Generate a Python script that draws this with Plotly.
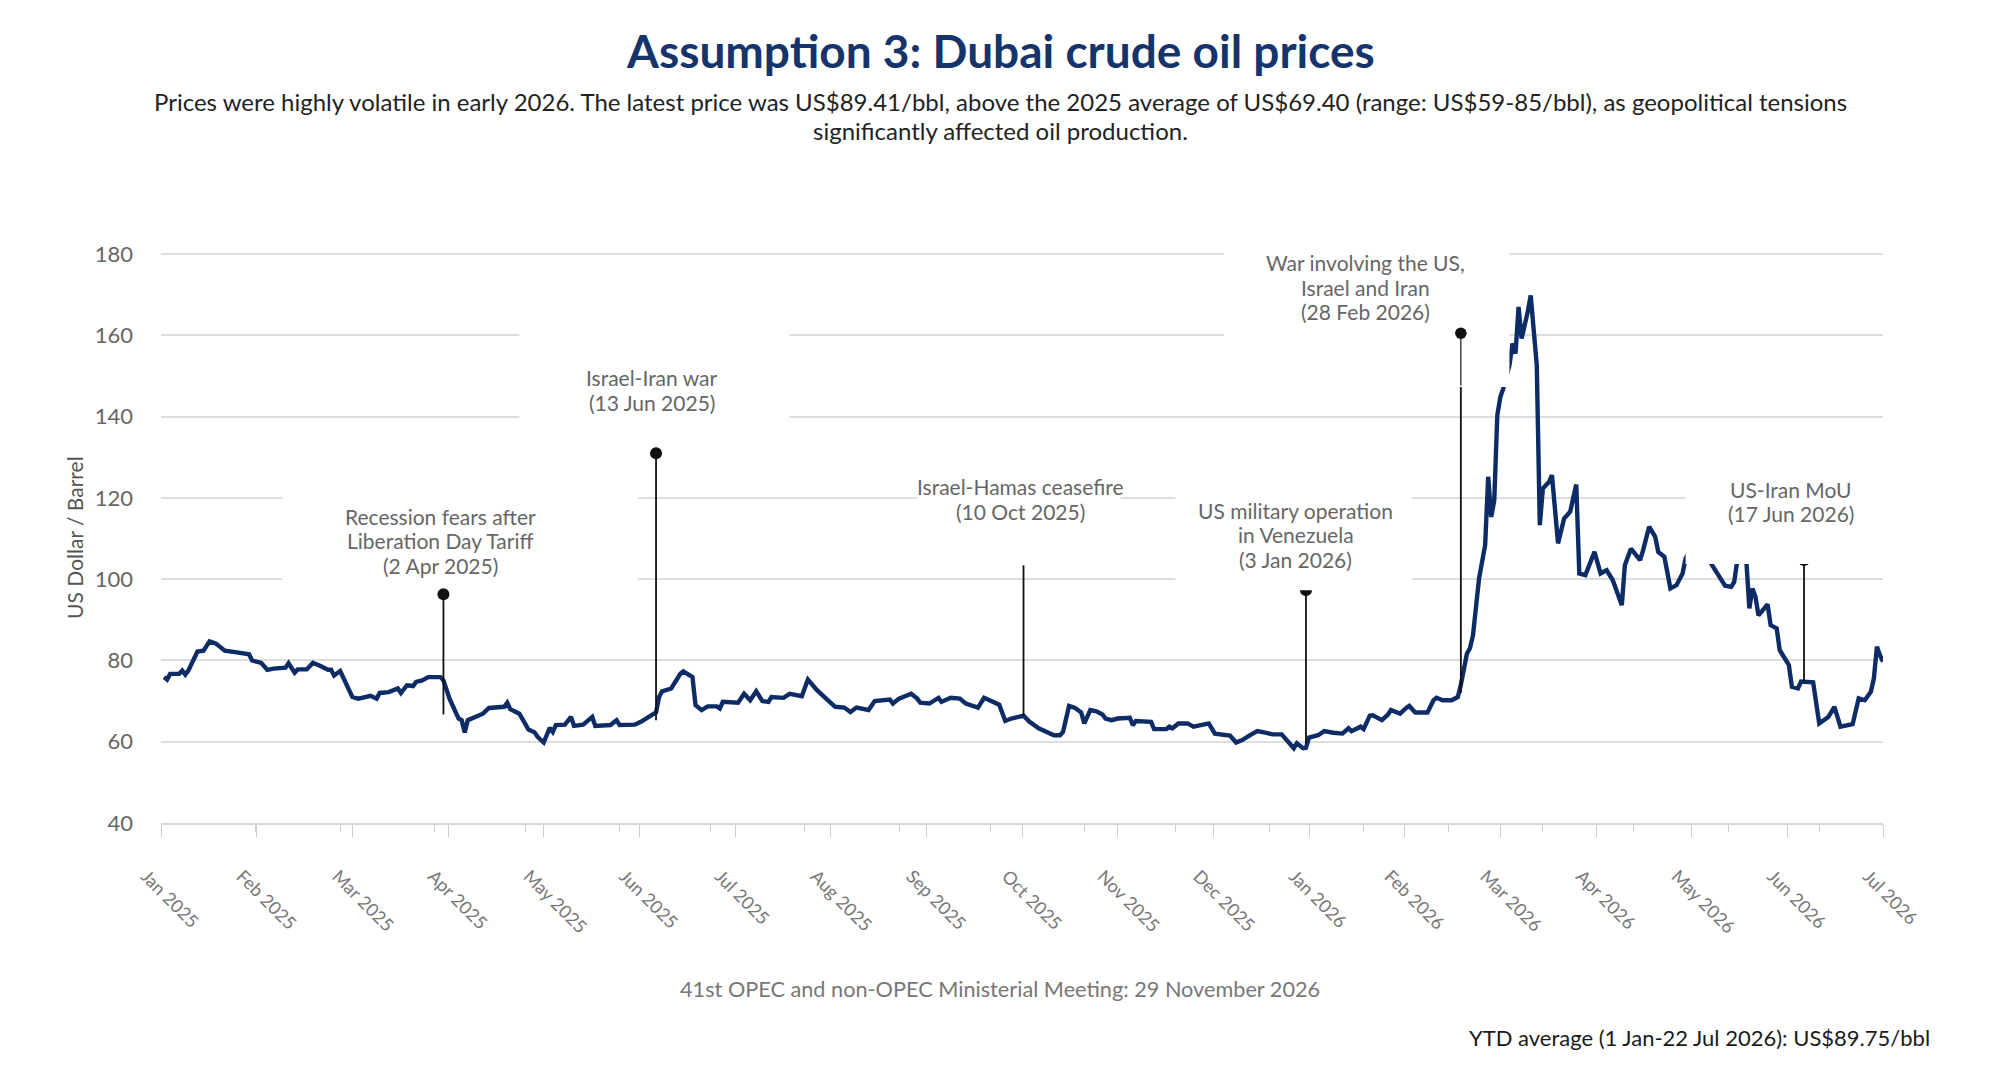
import plotly.graph_objects as go
import pandas as pd

# ---------------- data ----------------
dates = [
    "2025-01-02","2025-01-03","2025-01-04","2025-01-07","2025-01-08","2025-01-09","2025-01-10","2025-01-13",
    "2025-01-15","2025-01-17","2025-01-19","2025-01-22","2025-01-26","2025-01-30","2025-01-31","2025-02-03",
    "2025-02-05","2025-02-07","2025-02-11","2025-02-12","2025-02-14","2025-02-15","2025-02-18","2025-02-20",
    "2025-02-22","2025-02-25","2025-02-26","2025-02-27","2025-03-01","2025-03-03","2025-03-05","2025-03-07",
    "2025-03-11","2025-03-13","2025-03-14","2025-03-17","2025-03-20","2025-03-21","2025-03-23","2025-03-25",
    "2025-03-26","2025-03-28","2025-03-30","2025-04-03","2025-04-04","2025-04-06","2025-04-09","2025-04-10",
    "2025-04-11","2025-04-12","2025-04-15","2025-04-17","2025-04-19","2025-04-24","2025-04-25","2025-04-26",
    "2025-04-29","2025-05-02","2025-05-04","2025-05-05","2025-05-07","2025-05-09","2025-05-10","2025-05-11",
    "2025-05-14","2025-05-16","2025-05-17","2025-05-20","2025-05-23","2025-05-24",
    "2025-05-29","2025-05-31","2025-06-01","2025-06-06","2025-06-08","2025-06-12","2025-06-13","2025-06-14",
    "2025-06-15","2025-06-18","2025-06-21","2025-06-22","2025-06-25","2025-06-26","2025-06-28","2025-06-30",
    "2025-07-03","2025-07-04","2025-07-05","2025-07-10","2025-07-12","2025-07-14","2025-07-16","2025-07-18",
    "2025-07-20","2025-07-21","2025-07-25","2025-07-27","2025-07-31","2025-08-02","2025-08-05","2025-08-08",
    "2025-08-11","2025-08-14","2025-08-16","2025-08-18","2025-08-22","2025-08-24","2025-08-29","2025-08-30",
    "2025-09-01","2025-09-05","2025-09-07","2025-09-08","2025-09-11","2025-09-14","2025-09-15","2025-09-18",
    "2025-09-21","2025-09-23","2025-09-27","2025-09-29","2025-10-01","2025-10-04","2025-10-06","2025-10-08",
    "2025-10-12","2025-10-14",
    "2025-10-17","2025-10-19","2025-10-22","2025-10-24","2025-10-25","2025-10-27","2025-10-29","2025-10-31",
    "2025-11-01","2025-11-03","2025-11-05","2025-11-07","2025-11-08","2025-11-10","2025-11-12","2025-11-16",
    "2025-11-17","2025-11-18","2025-11-23","2025-11-24","2025-11-28","2025-11-29","2025-11-30","2025-12-02",
    "2025-12-05","2025-12-07","2025-12-10","2025-12-12","2025-12-14","2025-12-16","2025-12-19","2025-12-21",
    "2025-12-23","2025-12-26","2025-12-28","2025-12-31","2026-01-02","2026-01-05","2026-01-07","2026-01-09",
    "2026-01-10","2026-01-12","2026-01-13","2026-01-14","2026-01-17","2026-01-19","2026-01-22","2026-01-25",
    "2026-01-27","2026-01-28","2026-01-31","2026-02-01","2026-02-03","2026-02-04","2026-02-07","2026-02-09",
    "2026-02-10","2026-02-13","2026-02-15","2026-02-16","2026-02-18","2026-02-22","2026-02-24","2026-02-25",
    "2026-02-27","2026-03-02","2026-03-04","2026-03-05",
    "2026-03-07","2026-03-08","2026-03-09","2026-03-10","2026-03-11","2026-03-13","2026-03-14","2026-03-15",
    "2026-03-16","2026-03-17","2026-03-18","2026-03-19","2026-03-20","2026-03-21","2026-03-22","2026-03-23",
    "2026-03-24","2026-03-25","2026-03-27","2026-03-28","2026-03-30","2026-03-31","2026-04-01","2026-04-03",
    "2026-04-04","2026-04-06","2026-04-08","2026-04-10","2026-04-12","2026-04-13","2026-04-15","2026-04-18",
    "2026-04-20","2026-04-22","2026-04-24","2026-04-27","2026-04-28","2026-04-30","2026-05-03","2026-05-04",
    "2026-05-06","2026-05-08","2026-05-09","2026-05-11","2026-05-13","2026-05-15","2026-05-17","2026-05-18",
    "2026-05-19","2026-05-20","2026-05-22","2026-05-24","2026-05-26","2026-05-28","2026-05-31","2026-06-02",
    "2026-06-03","2026-06-04","2026-06-05","2026-06-06","2026-06-07","2026-06-08","2026-06-09","2026-06-10",
    "2026-06-11","2026-06-14","2026-06-15","2026-06-17","2026-06-18","2026-06-20","2026-06-21","2026-06-22",
    "2026-06-24","2026-06-25","2026-06-29","2026-07-01","2026-07-04","2026-07-06","2026-07-08","2026-07-12",
    "2026-07-14","2026-07-16","2026-07-18","2026-07-19","2026-07-20","2026-07-21","2026-07-22",
]
prices = [
    75.9, 75.3, 76.7, 76.7, 77.5, 76.5, 77.5, 82.2,
    82.4, 84.7, 84.2, 82.4, 82.0, 81.5, 80.0, 79.4,
    77.7, 78.0, 78.2, 79.3, 77.0, 77.8, 77.8, 79.4,
    78.8, 77.7, 77.7, 76.3, 77.4, 74.3, 71.0, 70.6,
    71.3, 70.6, 72.0, 72.2, 73.1, 72.0, 73.9, 73.7,
    74.7, 75.1, 75.9, 75.9, 75.1, 70.6, 65.7, 65.3,
    62.3, 65.3, 66.1, 66.9, 68.3, 68.6, 69.6, 68.0,
    66.9, 63.0, 62.3, 61.2, 59.8, 63.4, 62.4, 64.1,
    64.2, 66.1, 63.9, 64.2, 66.1, 63.9,
    64.1, 65.3, 64.1, 64.2, 64.9, 66.5, 67.2, 71.0,
    72.4, 73.1, 76.7, 77.3, 75.9, 69.0, 67.8, 68.7,
    68.7, 68.2, 69.8, 69.6, 71.8, 70.2, 72.4, 70.0,
    69.8, 71.0, 70.8, 71.8, 71.2, 75.3, 72.7, 70.6,
    68.6, 68.4, 67.3, 68.4, 67.8, 70.0, 70.4, 69.4,
    70.6, 71.8, 70.6, 69.6, 69.4, 70.8, 69.8, 70.8,
    70.6, 69.4, 68.4, 70.8, 70.2, 69.1, 65.1, 65.7,
    66.4, 64.9,
    63.3, 62.6, 61.6, 61.6, 62.4, 68.8, 68.3, 67.2,
    64.5, 67.8, 67.5, 66.7, 65.7, 65.3, 65.7, 65.9,
    64.1, 65.1, 64.9, 63.1, 63.1, 63.7, 63.3, 64.5,
    64.5, 63.7, 64.2, 64.5, 62.0, 61.8, 61.5, 59.8,
    60.4, 61.8, 62.6, 62.2, 61.8, 61.8, 60.0, 58.4,
    59.6, 58.4, 58.5, 61.0, 61.6, 62.6, 62.2, 62.0,
    63.3, 62.6, 63.7, 63.1, 66.4, 66.5, 65.3, 66.7,
    67.8, 66.9, 68.3, 68.8, 67.2, 67.2, 70.2, 70.8,
    70.2, 70.2, 71.0, 74.0,
    81.7, 83.0, 86.2, 94.4, 100.2, 108.4, 125.2, 115.3,
    119.4, 140.3, 144.8, 147.0, 150.0, 152.6, 158.0, 155.5,
    167.0, 159.2, 165.7, 169.8, 152.6, 113.3, 122.3, 123.9,
    125.6, 108.8, 114.9, 116.6, 123.3, 101.4, 101.0, 106.7,
    101.4, 102.2, 99.8, 93.6, 103.4, 107.5, 104.7, 107.1,
    112.9, 110.4, 106.7, 105.5, 97.7, 98.5, 101.4, 105.1,
    106.5, 108.0, 107.0, 106.5, 104.3, 101.8, 98.4, 98.1,
    99.3, 104.5, 106.0, 105.5, 104.5, 92.8, 97.7, 95.7,
    91.1, 93.8, 88.7, 87.9, 82.5, 80.1, 78.9, 73.5,
    73.1, 74.8, 74.6, 64.5, 66.1, 68.6, 63.7, 64.3,
    70.7, 70.2, 72.3, 75.6, 83.4, 81.3, 79.7,
]

month_labels = [
    "Jan 2025", "Feb 2025", "Mar 2025", "Apr 2025", "May 2025", "Jun 2025", "Jul 2025",
    "Aug 2025", "Sep 2025", "Oct 2025", "Nov 2025", "Dec 2025", "Jan 2026", "Feb 2026",
    "Mar 2026", "Apr 2026", "May 2026", "Jun 2026", "Jul 2026",
]

event_labels = [
    "Recession fears after<br>Liberation Day Tariff<br>(2 Apr 2025)",
    "Israel-Iran war<br>(13 Jun 2025)",
    "Israel-Hamas ceasefire<br>(10 Oct 2025)",
    "US military operation<br>in Venezuela<br>(3 Jan 2026)",
    "War involving the US,<br>Israel and Iran<br>(28 Feb 2026)",
    "US-Iran MoU<br>(17 Jun 2026)",
]
event_dates = ["2025-04-04", "2025-06-13", "2025-10-12", "2026-01-13", "2026-03-05", "2026-06-26"]
event_tops = [96.3, 131.0, 106.0, 97.3, 160.5, 104.7]
event_bottoms = [66.7, 65.3, 66.4, 59.5, 72.0, 74.8]

title_text = "Assumption 3: Dubai crude oil prices"
subtitle_lines = [
    "Prices were highly volatile in early 2026. The latest price was US$89.41/bbl, above the 2025 average "
    "of US$69.40 (range: US$59-85/bbl), as geopolitical tensions",
    "significantly affected oil production.",
]
footer_note = "41st OPEC and non-OPEC Ministerial Meeting: 29 November 2026"
ytd_note = "YTD average (1 Jan-22 Jul 2026): US$89.75/bbl"
y_title = "US Dollar / Barrel"

# ---------------- layout helpers ----------------
FONT = "Lato"
NAVY = "#0d2c66"
x_start, x_end = pd.Timestamp("2025-01-01"), pd.Timestamp("2026-07-22")
step = (x_end - x_start) / (len(month_labels) - 1)
tickvals = [(x_start + k * step).isoformat() for k in range(len(month_labels))]

# label placement (y value of centre, x pixel shift) and white label boxes
label_pos = [(109.4, -3), (146.6, -4), (119.7, -3), (110.9, -10), (171.8, -95), (119.1, -13)]
LINE_GAP = 24.5  # px between label lines
boxes = [
    ("2025-02-10", "2025-06-07", 98.5, 123.0),
    ("2025-04-29", "2025-07-27", 137.5, 162.0),
    ("2025-09-07", "2025-11-13", 103.4, 127.0),
    ("2025-12-01", "2026-02-17", 97.3, 122.0),
    ("2025-12-17", "2026-03-21", 147.3, 181.0),
    ("2026-05-18", "2026-07-22", 103.7, 127.0),
]

fig = go.Figure()

fig.add_trace(go.Scatter(
    x=dates, y=prices, mode="lines",
    line=dict(color=NAVY, width=4.4), hoverinfo="skip", showlegend=False,
))

ex, ey = [], []
for d, b, t in zip(event_dates, event_bottoms, event_tops):
    ex += [d, d, None]
    ey += [b, t, None]
fig.add_trace(go.Scatter(x=ex, y=ey, mode="lines", line=dict(color="#111111", width=1.8),
                         hoverinfo="skip", showlegend=False))
fig.add_trace(go.Scatter(x=event_dates, y=event_tops, mode="markers",
                         marker=dict(color="#111111", size=12), hoverinfo="skip", showlegend=False))

shapes = []
for x0, x1, y0, y1 in boxes:
    shapes.append(dict(type="rect", xref="x", yref="y", x0=x0, x1=x1, y0=y0, y1=y1,
                       fillcolor="white", line=dict(width=0), layer="above"))

annotations = []
for lbl, d, (ly, dx) in zip(event_labels, event_dates, label_pos):
    parts = lbl.split("<br>")
    n = len(parts)
    for i, part in enumerate(parts):
        annotations.append(dict(x=d, y=ly, xref="x", yref="y", text=part, showarrow=False,
                                xshift=dx, yshift=((n - 1) / 2 - i) * LINE_GAP,
                                xanchor="center", yanchor="middle", align="center",
                                font=dict(family=FONT, size=21, color="#666666")))

# War event: dot + connector drawn above its label box
wi = 4
annotations.append(dict(x=event_dates[wi], y=event_tops[wi], xref="x", yref="y",
                        ax=event_dates[wi], ay=boxes[wi][2], axref="x", ayref="y",
                        text="", showarrow=True, arrowhead=6, arrowsize=2.4, arrowwidth=1.2,
                        arrowcolor="#111111", standoff=0, startstandoff=0))

# plot area: 182px top margin offsets below are relative to plot height
annotations += [
    dict(x=0.4874, y=1.3532, xref="paper", yref="paper", text="<b>" + title_text + "</b>",
         showarrow=False, xanchor="center", yanchor="middle",
         font=dict(family=FONT, size=46, color="#15346b")),
    dict(x=0.4874, y=1.2635, xref="paper", yref="paper", text=subtitle_lines[0],
         showarrow=False, xanchor="center", yanchor="middle",
         font=dict(family=FONT, size=24, color="#222222")),
    dict(x=0.4874, y=1.2127, xref="paper", yref="paper", text=subtitle_lines[1],
         showarrow=False, xanchor="center", yanchor="middle",
         font=dict(family=FONT, size=24, color="#222222")),
    dict(x=-0.0503, y=0.5, xref="paper", yref="paper", text=y_title, textangle=-90,
         showarrow=False, xanchor="center", yanchor="middle",
         font=dict(family=FONT, size=21, color="#555555")),
    dict(x=0.4874, y=-0.2904, xref="paper", yref="paper", text=footer_note,
         showarrow=False, xanchor="center", yanchor="middle",
         font=dict(family=FONT, size=21.7, color="#777777")),
    dict(x=1.0286, y=-0.3754, xref="paper", yref="paper", text=ytd_note,
         showarrow=False, xanchor="right", yanchor="middle",
         font=dict(family=FONT, size=22, color="#1a1a1a")),
]

fig.update_layout(
    width=2000, height=1091,
    margin=dict(l=161, r=117, t=252, b=268),
    paper_bgcolor="white", plot_bgcolor="white",
    showlegend=False,
    shapes=shapes, annotations=annotations,
    xaxis=dict(
        type="date", range=[x_start.isoformat(), x_end.isoformat()],
        tickmode="array", tickvals=tickvals, ticktext=month_labels,
        tickangle=45, tickfont=dict(family=FONT, size=18, color="#777777"),
        ticks="outside", ticklen=12, tickwidth=1.2, tickcolor="#cccccc",
        ticklabelstandoff=22, ticklabelshift=-15,
        minor=dict(ticks="outside", ticklen=7, tickwidth=1.2, tickcolor="#cccccc",
                   dtick="M1", tick0="2025-01-01", showgrid=False),
        showgrid=False, zeroline=False,
        showline=True, linecolor="#d6d6d6", linewidth=1.5,
    ),
    yaxis=dict(
        range=[40, 180.5], tickmode="array", tickvals=[40, 60, 80, 100, 120, 140, 160, 180],
        tickfont=dict(family=FONT, size=22, color="#666666"),
        ticks="", ticklabelstandoff=27,
        showgrid=True, gridcolor="#dddddd", gridwidth=1.5,
        zeroline=False, showline=False,
    ),
)

fig.write_html("out.html", config={"displayModeBar": False, "responsive": False})
